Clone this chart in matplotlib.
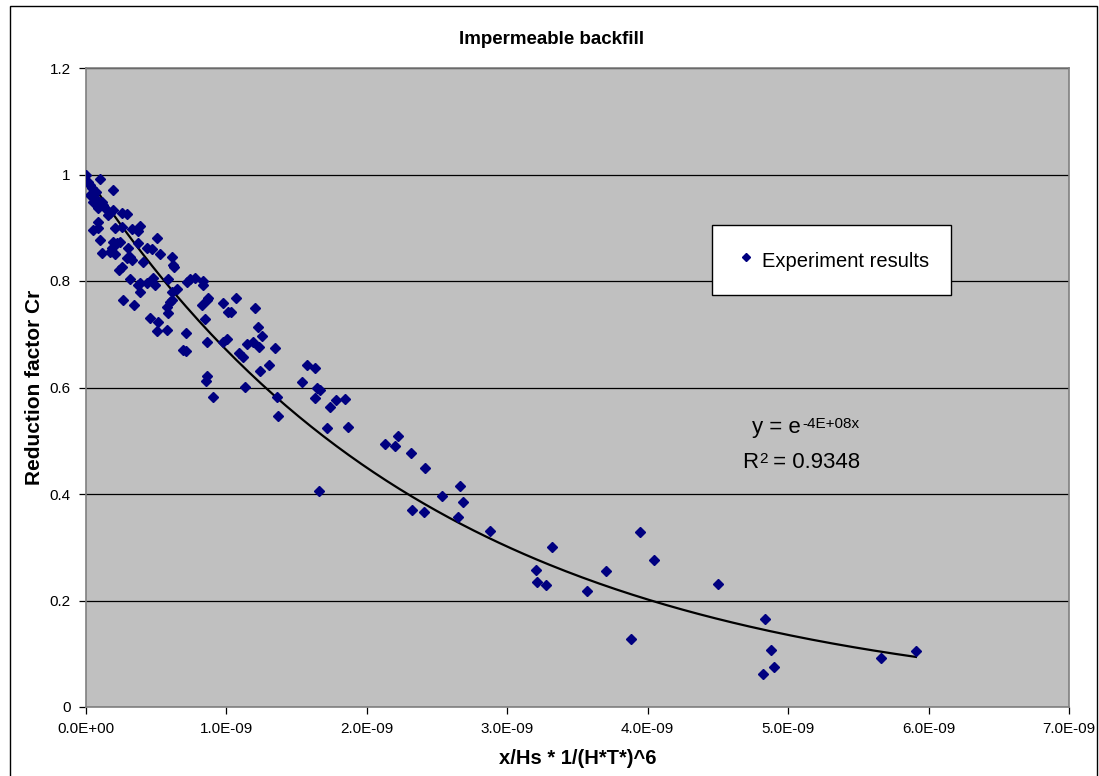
import matplotlib
matplotlib.use("Agg")
import matplotlib.pyplot as plt
from matplotlib.ticker import FuncFormatter
from matplotlib.patches import Rectangle
import numpy as np

plt.rcParams['font.family'] = ['Liberation Sans', 'DejaVu Sans']

# experiment results, x in units of 1e-9
x_e9 = [0.0, 0.10, 0.014, 0.028, 0.192, 0.028, 0.064, 0.050, 0.085, 0.114,
        0.121, 0.085, 0.149, 0.171, 0.156, 0.192, 0.256, 0.292, 0.085, 0.050,
        0.085, 0.206, 0.256, 0.327, 0.384, 0.370, 0.100, 0.505, 0.192, 0.220,
        0.242, 0.185, 0.299, 0.370, 0.434, 0.469, 0.043, 0.071,
        0.114, 0.171, 0.206, 0.292, 0.313, 0.327, 0.256, 0.235, 0.405, 0.526,
        0.612, 0.619, 0.626, 0.313, 0.370, 0.384, 0.434, 0.477, 0.491, 0.384,
        0.583, 0.647, 0.612, 0.718, 0.740, 0.775, 0.832, 0.832, 0.263, 0.341,
        0.612, 0.597, 0.576, 0.583, 0.868, 0.861, 0.825, 0.974, 1.010, 0.455,
        0.512, 0.505, 0.576, 0.711, 0.846, 0.861, 0.974, 0.690, 0.711, 0.861,
        0.853, 0.903,
        1.003, 1.067, 1.031, 1.202, 1.088, 1.117, 1.145, 1.188, 1.230, 1.223,
        1.252, 1.344, 1.302, 1.238, 1.131, 1.358, 1.366, 1.572, 1.629, 1.536,
        1.643, 1.664, 1.629, 1.735, 1.714, 1.778, 1.842, 1.863, 1.657, 2.127,
        2.219, 2.198, 2.312, 2.411, 2.660, 2.532, 2.688, 2.319, 2.404, 2.646,
        2.880, 3.321, 3.201, 3.215, 3.279, 3.570, 3.706, 3.947, 4.047, 3.883,
        4.502, 4.836, 4.879, 4.900, 4.822, 5.661, 5.910]
cr = [1.000, 0.992, 0.986, 0.980, 0.971, 0.962, 0.956, 0.948, 0.947, 0.948,
      0.943, 0.937, 0.933, 0.928, 0.924, 0.933, 0.928, 0.926, 0.911, 0.896,
      0.900, 0.900, 0.901, 0.898, 0.903, 0.894, 0.877, 0.881, 0.873, 0.871,
      0.873, 0.862, 0.862, 0.871, 0.862, 0.860, 0.975, 0.967,
      0.853, 0.854, 0.851, 0.843, 0.845, 0.839, 0.826, 0.821, 0.836, 0.851,
      0.845, 0.830, 0.826, 0.804, 0.792, 0.796, 0.796, 0.806, 0.792, 0.779,
      0.804, 0.785, 0.779, 0.798, 0.804, 0.806, 0.800, 0.792, 0.764, 0.755,
      0.764, 0.761, 0.751, 0.740, 0.768, 0.764, 0.755, 0.759, 0.742, 0.731,
      0.723, 0.706, 0.708, 0.702, 0.729, 0.685, 0.685, 0.670, 0.669, 0.622,
      0.612, 0.582,
      0.691, 0.768, 0.742, 0.749, 0.665, 0.657, 0.682, 0.685, 0.676, 0.714,
      0.697, 0.674, 0.642, 0.631, 0.601, 0.582, 0.546, 0.642, 0.637, 0.610,
      0.599, 0.595, 0.580, 0.563, 0.524, 0.577, 0.578, 0.526, 0.406, 0.494,
      0.509, 0.490, 0.477, 0.449, 0.415, 0.396, 0.385, 0.370, 0.366, 0.357,
      0.331, 0.300, 0.257, 0.235, 0.229, 0.218, 0.255, 0.329, 0.276, 0.128,
      0.231, 0.165, 0.107, 0.075, 0.062, 0.092, 0.105]

x_ticks = [0, 1e-9, 2e-9, 3e-9, 4e-9, 5e-9, 6e-9, 7e-9]
y_ticks = [0, 0.2, 0.4, 0.6, 0.8, 1.0, 1.2]

trend_coef = -4e8
r2 = 0.9348

x = np.array(x_e9) * 1e-9
y = np.array(cr)

fig = plt.figure(figsize=(10.99, 7.76), dpi=100)
fig.patches.append(Rectangle((10 / 1099, -0.01), 1087 / 1099, 1 - 6 / 776 + 0.01,
                             transform=fig.transFigure, fill=False,
                             edgecolor='black', linewidth=1.0))
ax = fig.add_axes([86 / 1099, 1 - 707 / 776, 983 / 1099, 639 / 776])
ax.set_facecolor('#C0C0C0')

ax.plot(x, y, 'D', color='#000080', markersize=5.3, label='Experiment results',
        zorder=3)
xt = np.linspace(x.min(), x.max(), 200)
ax.plot(xt, np.exp(trend_coef * xt), color='black', linewidth=1.6, zorder=2)

ax.set_xlim(0, 7e-9)
ax.set_ylim(0, 1.2)
ax.set_xticks(x_ticks)
ax.set_yticks(y_ticks)
ax.xaxis.set_major_formatter(FuncFormatter(lambda v, p: f"{v:.1E}"))
ax.yaxis.set_major_formatter(FuncFormatter(lambda v, p: f"{v:g}"))
ax.grid(axis='y', color='black', linewidth=0.9)
ax.set_axisbelow(True)
for s in ax.spines.values():
    s.set_color('#808080')
    s.set_linewidth(1.2)
ax.tick_params(direction='out', length=5, width=0.9, color='black',
               labelsize=11, pad=6)

fig.text(552 / 1099, 1 - 40 / 776, 'Impermeable backfill', fontsize=13.5,
         fontweight='bold', ha='center', va='center')
ax.set_xlabel('x/Hs * 1/(H*T*)^6', fontsize=14.5, fontweight='bold', labelpad=9)
ax.set_ylabel('Reduction factor Cr', fontsize=15, fontweight='bold', labelpad=4)

leg = ax.legend(loc='center',
                bbox_to_anchor=((831.5 - 86) / 983, (707 - 260) / 639),
                fontsize=14.5, frameon=True, fancybox=False, framealpha=1,
                borderpad=1.1, handletextpad=0.15, handlelength=1.2,
                handleheight=1.6, markerscale=0.8)
leg.get_frame().set_edgecolor('black')
leg.get_frame().set_facecolor('white')
leg.get_frame().set_linewidth(1.0)

t1 = fig.text(752 / 1099, 1 - 433 / 776, 'y = e', fontsize=16, va='baseline')
ax.annotate('-4E+08x', xy=(1, 1), xycoords=t1, xytext=(1, 0),
            textcoords='offset points', fontsize=11, ha='left', va='top')
t2 = fig.text(742 / 1099, 1 - 468 / 776, 'R', fontsize=16, va='baseline')
t3 = ax.annotate('2', xy=(1, 1), xycoords=t2, xytext=(0.5, 0),
                 textcoords='offset points', fontsize=11, ha='left', va='top')
ax.annotate(' = %.4f' % r2, xy=(1, 0), xycoords=(t3, t2), xytext=(0, 0),
            textcoords='offset points', fontsize=16, ha='left', va='bottom')

fig.savefig('out.png', dpi=100)
